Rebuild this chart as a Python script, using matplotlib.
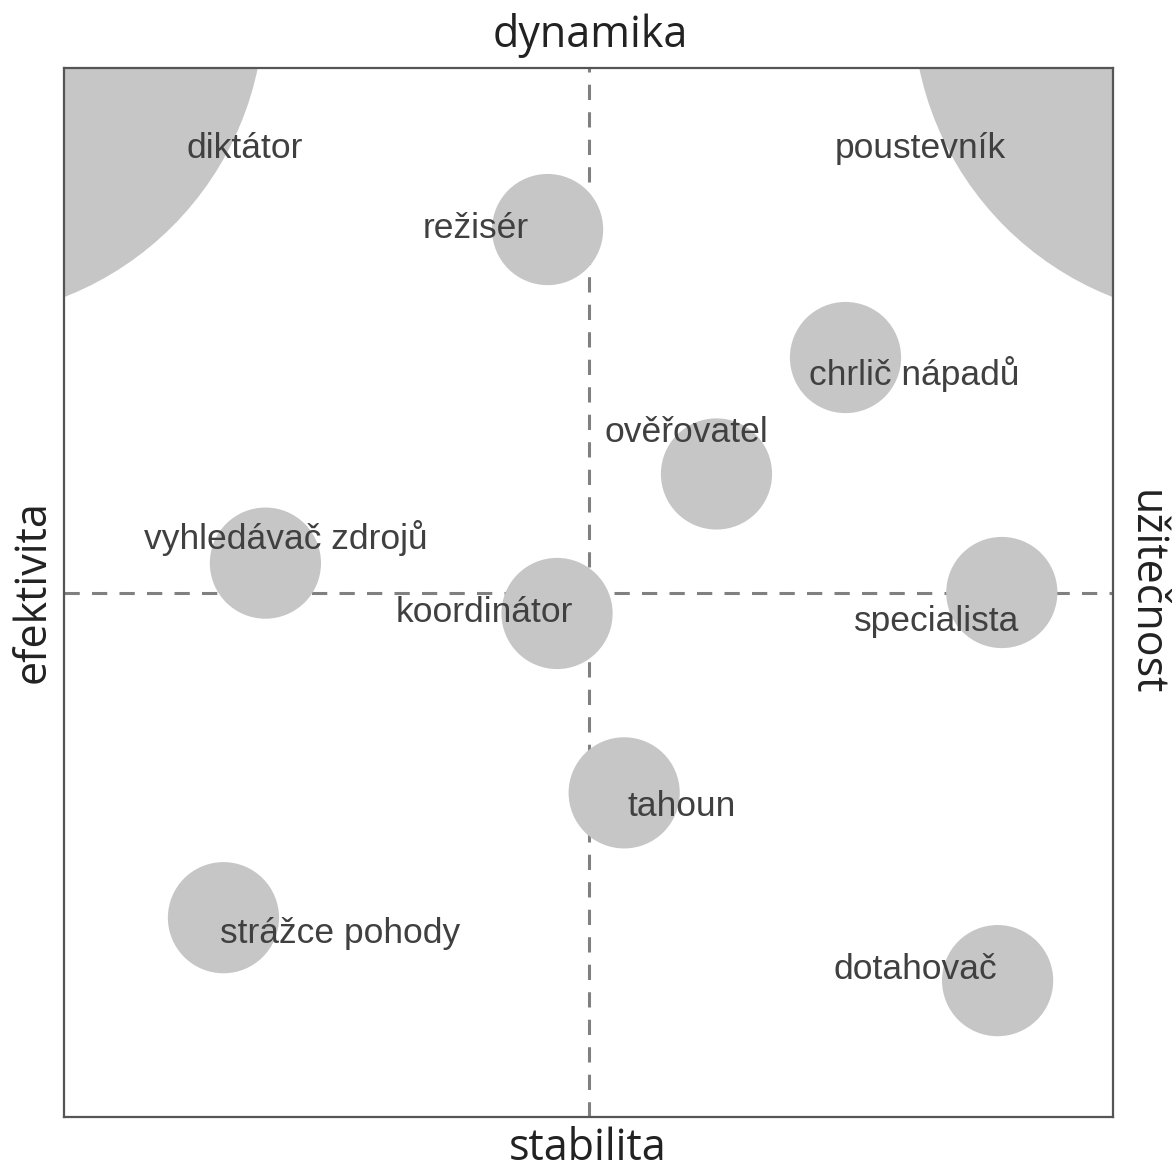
import matplotlib
matplotlib.use('Agg')
import matplotlib.pyplot as plt
from matplotlib.patches import Circle

# roles (circle centre in chart units 0..100)
role_names = ['režisér', 'chrlič nápadů', 'ověřovatel', 'vyhledávač zdrojů', 'koordinátor',
              'specialista', 'tahoun', 'strážce pohody', 'dotahovač']
role_x = [46.1, 74.5, 62.2, 19.2, 47.0, 89.4, 53.4, 15.2, 89.0]
role_y = [84.6, 72.4, 61.3, 52.8, 48.0, 50.0, 30.9, 19.0, 13.0]
role_r = 5.3

# label positions
label_x = [39.2, 81.1, 59.3, 21.1, 40.1, 83.2, 58.9, 26.3, 81.2]
label_y = [84.7, 70.8, 65.3, 55.2, 48.1, 47.2, 29.6, 17.5, 14.1]

# corner zones (big circles partly outside the box)
corner_names = ['diktátor', 'poustevník']
corner_x = [-10.9, 110.9]
corner_y = [106.1, 106.1]
corner_r = 30.0
corner_label_x = [17.2, 81.6]
corner_label_y = [92.3, 92.3]

fill = '#c6c6c6'
text_col = '#404040'

fig = plt.figure(figsize=(11.73, 11.72), dpi=100)
ax = fig.add_axes([64 / 1173, 1 - 1117 / 1172, 1049 / 1173, 1049 / 1172])
ax.set_xlim(0, 100)
ax.set_ylim(0, 100)
ax.set_xticks([])
ax.set_yticks([])
for s in ax.spines.values():
    s.set_color('#555555')
    s.set_linewidth(1.6)

# dashed cross
ax.axvline(50, color='#808080', lw=2.2, ls=(0, (5, 4)), zorder=1)
ax.axhline(50, color='#808080', lw=2.2, ls=(0, (5, 4)), zorder=1)

for cx, cy in zip(corner_x, corner_y):
    c = Circle((cx, cy), corner_r, color=fill, lw=0, zorder=2)
    ax.add_patch(c)
    c.set_clip_path(ax.patch)

for cx, cy in zip(role_x, role_y):
    ax.add_patch(Circle((cx, cy), role_r, color=fill, lw=0, zorder=2))

for name, lx, ly in zip(corner_names + role_names, corner_label_x + label_x, corner_label_y + label_y):
    ax.text(lx, ly, name, ha='center', va='center', fontsize=25.5,
            family='Liberation Sans', color=text_col, zorder=3)

ax_font = dict(family='Open Sans', fontsize=31, color='#222222')
fig.text(590 / 1173, 1 - 36 / 1172, 'dynamika', ha='center', va='center', **ax_font)
fig.text(588 / 1173, 1 - 1149 / 1172, 'stabilita', ha='center', va='center', **ax_font)
fig.text(33 / 1173, 1 - 592 / 1172, 'efektivita', ha='center', va='center', rotation=90, **ax_font)
fig.text(1145 / 1173, 1 - 593 / 1172, 'užitečnost', ha='center', va='center', rotation=-90, **ax_font)

fig.savefig('out.png', dpi=100)
